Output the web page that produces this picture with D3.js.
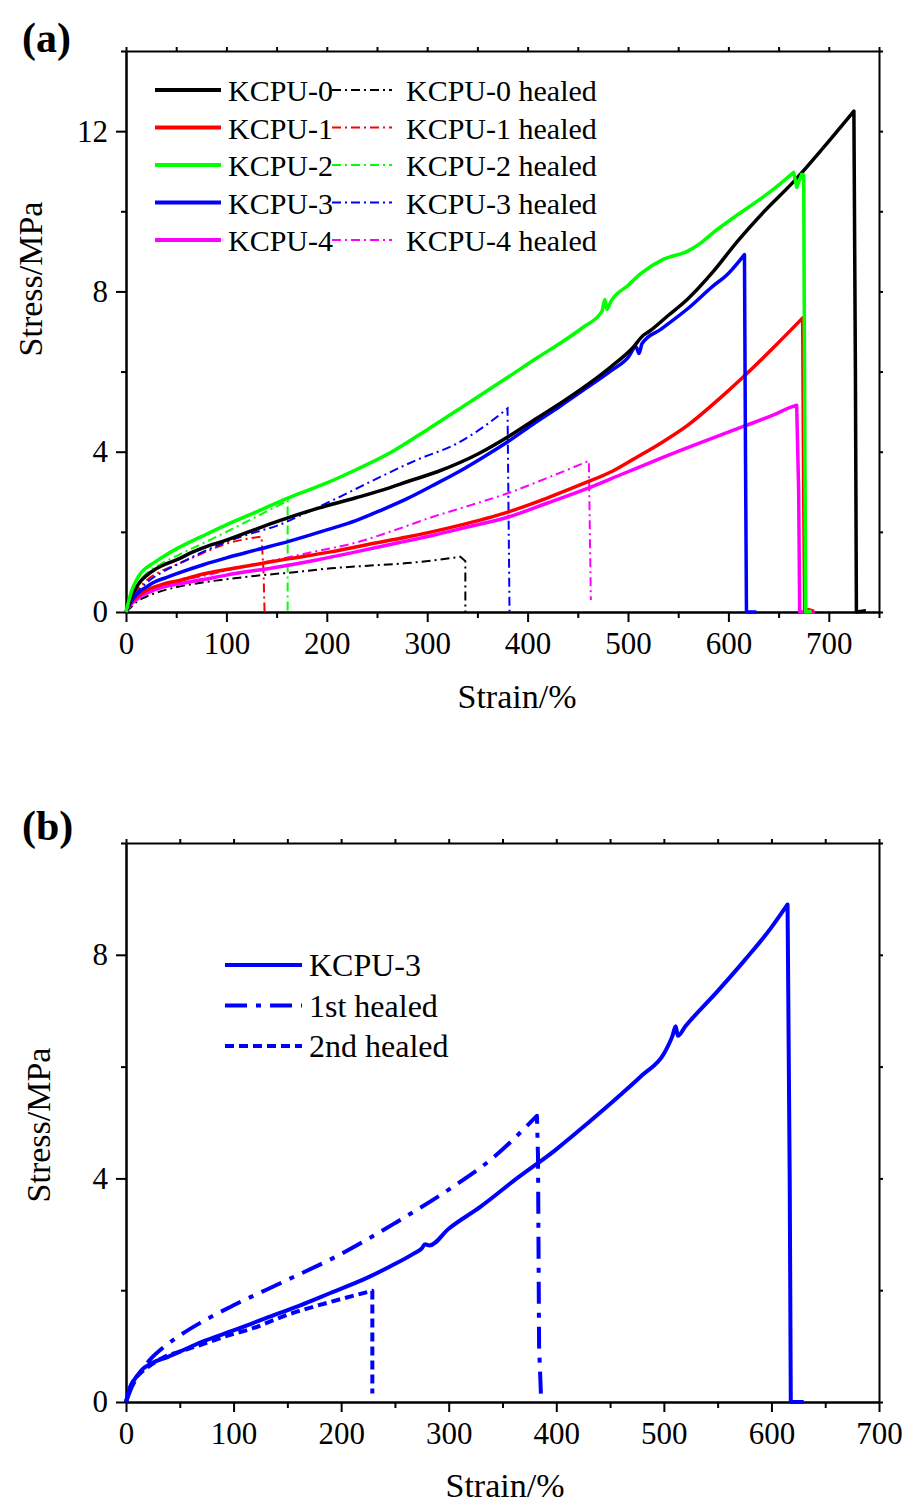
<!DOCTYPE html>
<html>
<head>
<meta charset="utf-8">
<script src="https://cdn.jsdelivr.net/npm/d3@7"></script>
<style>
body { margin: 0; background: #fff; }
text { font-family: "Liberation Serif", "Times New Roman", serif; fill: #000; }
</style>
</head>
<body>
<script>
// ---- data: [strain %, stress MPa] ----
let kcpu0 = [[0,0],[3,0.22],[6,0.42],[10,0.6],[15,0.78],[20,0.9],[30,1.08],[40,1.2],[52,1.32],[65,1.48],[80,1.63],[97,1.77],[120,1.98],[153,2.28],[190,2.58],[229,2.85],[260,3.08],[280,3.25],[310,3.5],[351,3.95],[381,4.38],[410,4.85],[432,5.2],[460,5.68],[483,6.12],[505,6.6],[515,6.9],[521,7.0],[540,7.4],[559,7.8],[585,8.5],[609,9.25],[635,9.98],[665,10.74],[695,11.6],[725,12.5],[726.5,6],[727.5,0],[737,0.03]]
let kcpu1 = [[0,0],[3,0.14],[6,0.26],[10,0.36],[15,0.46],[20,0.54],[30,0.64],[40,0.72],[52,0.78],[77,0.95],[100,1.06],[128,1.18],[160,1.32],[204,1.5],[240,1.68],[280,1.87],[330,2.15],[381,2.5],[420,2.85],[457,3.22],[485,3.52],[508,3.85],[535,4.25],[559,4.65],[590,5.3],[615,5.87],[645,6.6],[674,7.34],[675,3],[676,0],[680,0.06],[685,0.02]]
let kcpu2 = [[0,0],[2,0.2],[5,0.48],[10,0.78],[15,0.98],[20,1.1],[26,1.2],[35,1.35],[52,1.6],[75,1.88],[102,2.2],[130,2.5],[163,2.86],[200,3.22],[229,3.55],[265,4.0],[300,4.55],[340,5.2],[381,5.87],[410,6.35],[432,6.7],[455,7.1],[474,7.5],[477,7.8],[479,7.55],[483,7.75],[500,8.15],[513,8.45],[535,8.8],[559,9.0],[572,9.2],[584,9.45],[600,9.75],[620,10.1],[645,10.55],[665,10.97],[668,10.6],[673,10.92],[675,10.9],[676,5],[677,0],[683,0.02]]
let kcpu3 = [[0,0],[3,0.16],[6,0.3],[10,0.42],[15,0.54],[20,0.62],[26,0.72],[40,0.86],[52,0.97],[77,1.18],[100,1.35],[130,1.55],[163,1.77],[200,2.05],[229,2.28],[255,2.55],[280,2.83],[305,3.15],[330,3.48],[355,3.85],[381,4.26],[405,4.68],[432,5.13],[458,5.58],[483,6.02],[500,6.35],[508,6.62],[511,6.45],[514,6.7],[533,7.06],[560,7.58],[584,8.12],[600,8.45],[616,8.92],[617,4],[618,0],[628,0]]
let kcpu4 = [[0,0],[3,0.12],[6,0.22],[10,0.3],[15,0.39],[20,0.46],[26,0.53],[40,0.64],[52,0.7],[77,0.81],[100,0.92],[153,1.13],[190,1.3],[229,1.5],[270,1.72],[305,1.91],[340,2.12],[381,2.37],[420,2.72],[457,3.06],[495,3.45],[533,3.84],[575,4.25],[615,4.63],[645,4.92],[663,5.12],[668,5.16],[670,3],[671,0],[686,0]]

let healed0 = [[0,0],[5,0.12],[11,0.26],[20,0.38],[35,0.52],[52,0.63],[80,0.75],[128,0.9],[170,1.0],[204,1.09],[250,1.17],[280,1.22],[310,1.3],[333,1.38],[338,1.27],[338,0]]
let healed1 = [[0,0],[5,0.28],[10,0.5],[20,0.78],[35,1.02],[52,1.2],[75,1.45],[97,1.68],[115,1.8],[135,1.88],[137,1.0],[138,0]]
let healed2 = [[0,0],[5,0.35],[10,0.62],[20,0.95],[35,1.2],[52,1.42],[77,1.72],[100,2.0],[130,2.38],[161,2.78],[161,0]]
let healed3 = [[0,0],[5,0.25],[10,0.45],[20,0.72],[35,0.98],[52,1.2],[75,1.48],[100,1.75],[130,2.0],[150,2.15],[178,2.46],[215,2.9],[254,3.38],[290,3.8],[330,4.21],[355,4.6],[380,5.08],[382,0]]
let healed4 = [[0,0],[5,0.18],[10,0.32],[20,0.5],[40,0.7],[77,0.9],[115,1.12],[153,1.32],[190,1.52],[229,1.73],[265,2.02],[305,2.37],[345,2.68],[381,2.97],[420,3.35],[461,3.77],[463,0.3]]

let namesA = ["KCPU-0", "KCPU-1", "KCPU-2", "KCPU-3", "KCPU-4"]
let colorsA = ["#000000", "#ff0000", "#00ff00", "#0000ff", "#ff00ff"]

// panel (b): KCPU-3 and its repeated healing
let b3 = [[0,0],[2,0.15],[4,0.28],[6.5,0.36],[10,0.46],[15,0.58],[20,0.65],[28,0.73],[38,0.8],[50,0.9],[70,1.07],[100,1.28],[130,1.5],[162,1.73],[190,1.95],[224,2.22],[245,2.42],[267,2.65],[275,2.75],[278,2.82],[282,2.8],[300,3.1],[330,3.5],[360,3.95],[400,4.52],[430,5.0],[460,5.5],[480,5.85],[500,6.23],[508,6.55],[511,6.72],[513,6.55],[520,6.72],[550,7.35],[575,7.9],[600,8.49],[615,8.9],[617,4],[618,0],[630,0]]
let b1st = [[0,0],[5,0.25],[13,0.52],[22,0.75],[35,0.98],[50,1.19],[75,1.48],[100,1.73],[143,2.12],[205,2.7],[250,3.2],[300,3.8],[340,4.35],[382,5.12],[383,4.4],[384,1],[386,0]]
let b2nd = [[0,0],[3,0.2],[6,0.35],[10,0.45],[20,0.62],[35,0.8],[50,0.9],[69,1.02],[100,1.22],[115,1.3],[150,1.56],[192,1.8],[229,1.99],[229,0.15]]
let namesB = ["KCPU-3", "1st healed", "2nd healed"]

let xTicksA = [0,100,200,300,400,500,600,700]
let xMinorA = [50,150,250,350,450,550,650,750]
let yTicksA = [0,4,8,12]
let yMinorA = [2,6,10,14]
let xTicksB = [0,100,200,300,400,500,600,700]
let xMinorB = [50,150,250,350,450,550,650]
let yTicksB = [0,4,8]
let yMinorB = [2,6,10]

let width = 910
let height = 1506

let svg = d3.select("body")
  .append("svg")
  .attr("width", width)
  .attr("height", height)
  .style("background", "#fff")

//scales
let xA = d3.scaleLinear().domain([0, 750]).range([126, 879])
let yA = d3.scaleLinear().domain([0, 14]).range([612, 51])
let xB = d3.scaleLinear().domain([0, 700]).range([126, 879])
let yB = d3.scaleLinear().domain([0, 10]).range([1402, 843])

function styleAxis(g, size) {
  g.attr("font-family", "Liberation Serif, Times New Roman, serif")
   .attr("font-size", size)
  g.selectAll("path, line").attr("stroke", "#000").attr("stroke-width", 2)
}

function frame(x, y, xMaj, xMin, yMaj, yMin) {
  let [xl, xr] = x.range()
  let [yb, yt] = y.range()

  svg.append("g").attr("transform", `translate(0,${yb})`)
    .call(d3.axisBottom(x).tickValues(xMin).tickSize(6).tickSizeOuter(0).tickFormat(""))
    .call(g => styleAxis(g, 31))
  svg.append("g").attr("transform", `translate(0,${yb})`)
    .call(d3.axisBottom(x).tickValues(xMaj).tickSize(10).tickSizeOuter(0).tickPadding(10).tickFormat(d3.format("d")))
    .call(g => styleAxis(g, 31))

  svg.append("g").attr("transform", `translate(${xl},0)`)
    .call(d3.axisLeft(y).tickValues(yMin).tickSize(5).tickSizeOuter(0).tickFormat(""))
    .call(g => styleAxis(g, 31))
  svg.append("g").attr("transform", `translate(${xl},0)`)
    .call(d3.axisLeft(y).tickValues(yMaj).tickSize(10).tickSizeOuter(0).tickPadding(8).tickFormat(d3.format("d")))
    .call(g => styleAxis(g, 31))

  // mirrored top / right
  svg.append("g").attr("transform", `translate(0,${yt})`)
    .call(d3.axisTop(x).tickValues(xMaj.concat(xMin)).tickSize(4).tickSizeOuter(0).tickFormat(""))
    .call(g => styleAxis(g, 31))
  svg.append("g").attr("transform", `translate(${xr},0)`)
    .call(d3.axisRight(y).tickValues(yMaj.concat(yMin)).tickSize(4).tickSizeOuter(0).tickFormat(""))
    .call(g => styleAxis(g, 31))
}

frame(xA, yA, xTicksA, xMinorA, yTicksA, yMinorA)
frame(xB, yB, xTicksB, xMinorB, yTicksB, yMinorB)

// titles
svg.append("text").attr("x", 22).attr("y", 52).attr("font-size", 42).attr("font-weight", "bold").text("(a)")
svg.append("text").attr("x", 22).attr("y", 840).attr("font-size", 42).attr("font-weight", "bold").text("(b)")

svg.append("text").attr("x", 517).attr("y", 708).attr("text-anchor", "middle").attr("font-size", 34).text("Strain/%")
svg.append("text").attr("transform", "translate(42,279) rotate(-90)").attr("text-anchor", "middle").attr("font-size", 34).text("Stress/MPa")
svg.append("text").attr("x", 505).attr("y", 1497).attr("text-anchor", "middle").attr("font-size", 34).text("Strain/%")
svg.append("text").attr("transform", "translate(50,1125) rotate(-90)").attr("text-anchor", "middle").attr("font-size", 34).text("Stress/MPa")

// curves: smooth loading branch up to the peak, straight fracture drop after it
function curvePath(pts, x, y) {
  let k = d3.maxIndex(pts, d => d[1])
  let up = d3.line().curve(d3.curveMonotoneX).x(d => x(d[0])).y(d => y(d[1]))(pts.slice(0, k + 1))
  let down = pts.slice(k + 1).map(d => "L" + x(d[0]) + "," + y(d[1])).join("")
  return up + down
}

let healedA = [healed0, healed1, healed2, healed3, healed4]
let solidA = [kcpu0, kcpu1, kcpu2, kcpu3, kcpu4]

let dashDotA = "9,4,2,4"

healedA.forEach((h, i) => {
  svg.append("path")
    .attr("d", curvePath(h, xA, yA))
    .attr("fill", "none")
    .attr("stroke", colorsA[i])
    .attr("stroke-width", 2)
    .attr("stroke-dasharray", dashDotA)
})

// draw order: pink, red, blue, black, green roughly as in figure
let order = [4, 1, 3, 0, 2]
order.forEach(i => {
  svg.append("path")
    .attr("d", curvePath(solidA[i], xA, yA))
    .attr("fill", "none")
    .attr("stroke", colorsA[i])
    .attr("stroke-width", 3.5)
    .attr("stroke-linejoin", "round")
})

// legend (a)
namesA.forEach((n, i) => {
  let yy = 90 + i * 37.5
  svg.append("line").attr("x1", 155).attr("x2", 221).attr("y1", yy).attr("y2", yy)
    .attr("stroke", colorsA[i]).attr("stroke-width", 4)
  svg.append("line").attr("x1", 332).attr("x2", 392).attr("y1", yy).attr("y2", yy)
    .attr("stroke", colorsA[i]).attr("stroke-width", 2).attr("stroke-dasharray", dashDotA)
  svg.append("text").attr("x", 228).attr("y", yy + 11).attr("font-size", 30).text(n)
  svg.append("text").attr("x", 406).attr("y", yy + 11).attr("font-size", 30).text(n + " healed")
})

// panel (b)
let seriesB = [b3, b1st, b2nd]
let dashB = [null, "22,9,5,9", "9,5"]
seriesB.forEach((s, i) => {
  svg.append("path")
    .attr("d", curvePath(s, xB, yB))
    .attr("fill", "none")
    .attr("stroke", "#0000ff")
    .attr("stroke-width", 4)
    .attr("stroke-linejoin", "round")
    .attr("stroke-dasharray", dashB[i])
})

namesB.forEach((n, i) => {
  let yy = 965 + i * 40.5
  svg.append("line").attr("x1", 225).attr("x2", 302).attr("y1", yy).attr("y2", yy)
    .attr("stroke", "#0000ff").attr("stroke-width", 4).attr("stroke-dasharray", dashB[i])
  svg.append("text").attr("x", 309).attr("y", yy + 11).attr("font-size", 32).text(n)
})
</script>
</body>
</html>
